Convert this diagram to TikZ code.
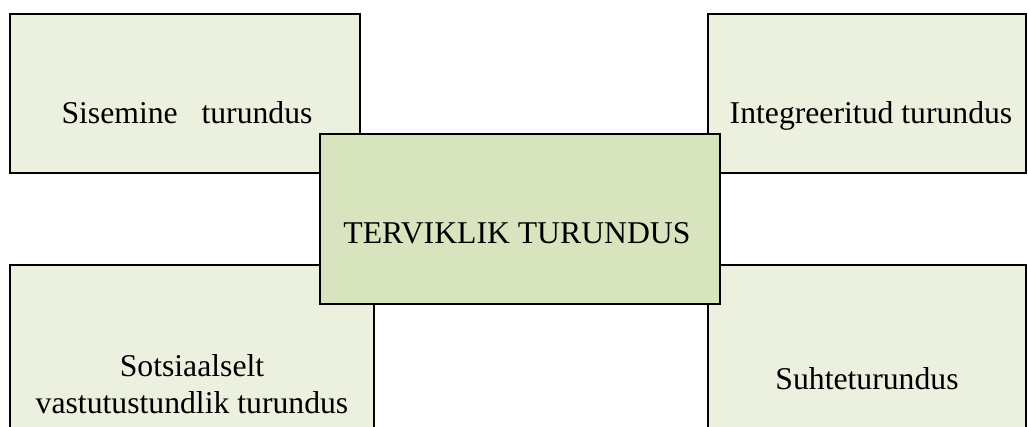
\documentclass[tikz,border=0pt]{standalone}
\usepackage{fontspec}
\setmainfont{Liberation Serif}
\definecolor{lightgr}{HTML}{EBF1DE}
\definecolor{midgr}{HTML}{D7E4BD}
\begin{document}
\begin{tikzpicture}[x=1pt,y=-1pt,
  box/.style={draw=black,line width=1.8pt,fill=lightgr,rectangle,inner sep=0pt},
  cbox/.style={box,fill=midgr},
  lbl/.style={anchor=base,inner sep=0pt,font=\fontsize{31.7}{37}\selectfont,align=center,text=black}]
\useasboundingbox (0,0) rectangle (1028,426);
\clip (0,0) rectangle (1028,426);
\node[box,minimum width=350pt,minimum height=159pt] (tl) at (185,93.5) {};
\node[box,minimum width=318pt,minimum height=159pt] (tr) at (867,93.5) {};
\node[box,minimum width=364pt,minimum height=190pt] (bl) at (192,360) {};
\node[box,minimum width=318pt,minimum height=190pt] (br) at (867,360) {};
\node[cbox,minimum width=400pt,minimum height=170pt] (c) at (520,219) {};
\node[lbl] (tlt) at (187,123) {Sisemine\hspace{0.75em}turundus};
\node[lbl] (trt) at (871,123) {Integreeritud turundus};
\node[lbl] (ct) at (517,243) {TERVIKLIK TURUNDUS};
\node[lbl] (blt1) at (192,376) {Sotsiaalselt};
\node[lbl] (blt2) at (192,413) {vastutustundlik turundus};
\node[lbl] (brt) at (867,389) {Suhteturundus};
\end{tikzpicture}
\end{document}
